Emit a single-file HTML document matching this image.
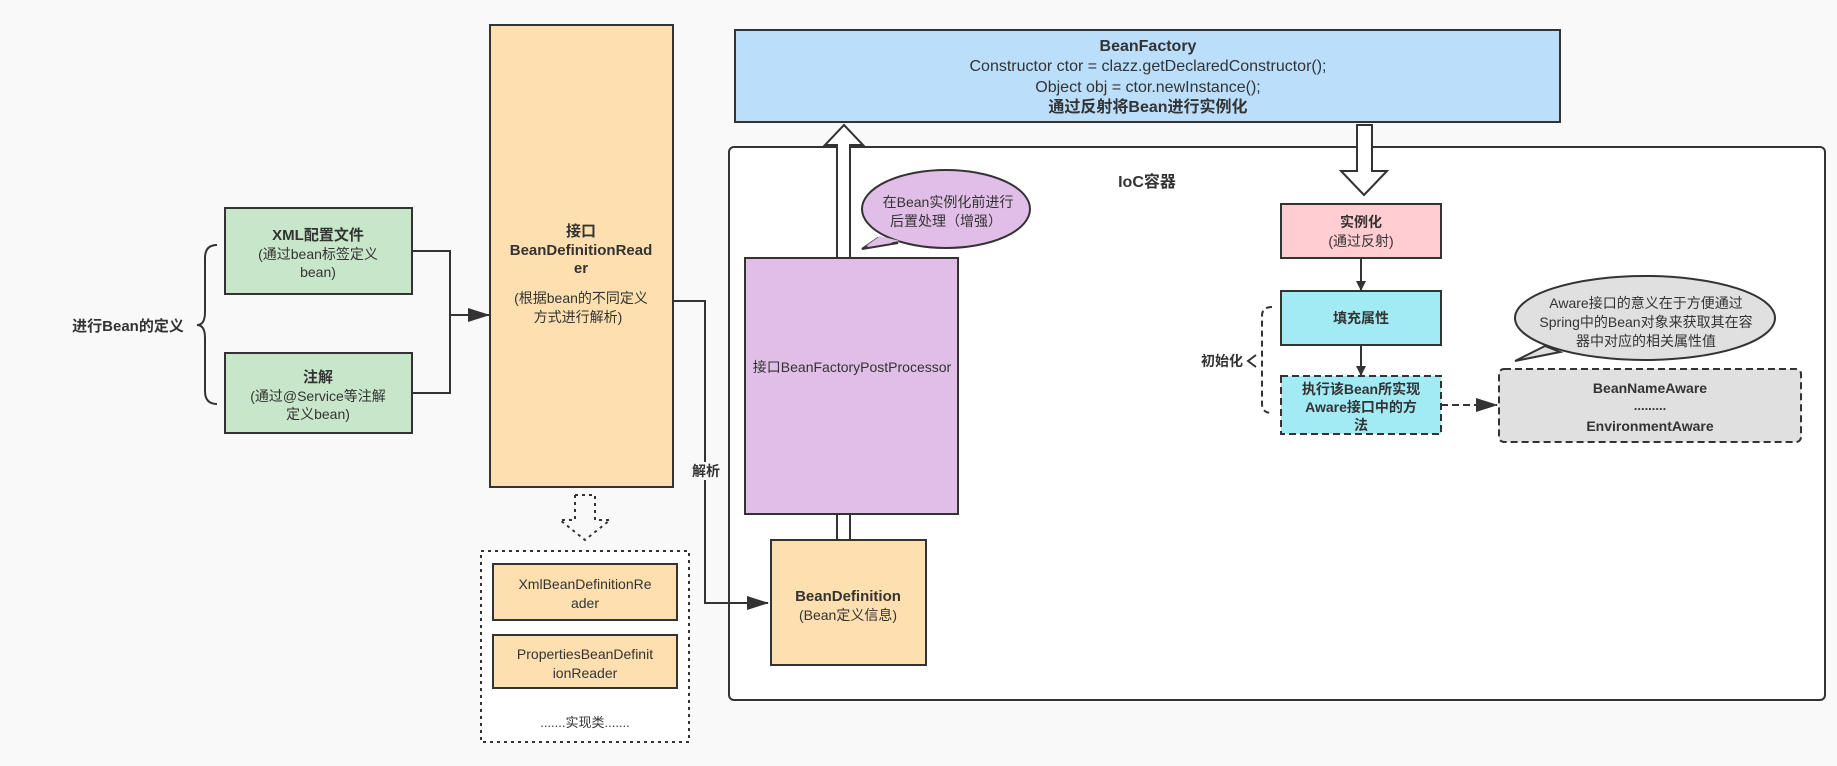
<!DOCTYPE html>
<html><head><meta charset="utf-8"><style>
html,body{margin:0;padding:0;background:#f9f9f9;}
svg{display:block;}
text{font-family:"Liberation Sans","Noto Sans CJK SC",sans-serif;fill:#333;}
.b{font-weight:bold;}
</style></head><body>
<svg width="1837" height="766" viewBox="0 0 1837 766" xmlns="http://www.w3.org/2000/svg">
<defs>
<marker id="ar" markerWidth="10" markerHeight="10" refX="9" refY="5" orient="auto" markerUnits="userSpaceOnUse"><path d="M0,0 L10,5 L0,10 z" fill="#333"/></marker>
<marker id="ar2" markerWidth="22" markerHeight="14" refX="21" refY="7" orient="auto" markerUnits="userSpaceOnUse"><path d="M0,0 L22,7 L0,14 z" fill="#333"/></marker>
</defs>
<rect width="1837" height="766" fill="#f9f9f9"/>

<!-- left brace -->
<path d="M217,245 Q205,245 205,258 L205,312 Q205,325 197,325 Q205,325 205,338 L205,391 Q205,404 217,404" fill="none" stroke="#333" stroke-width="2"/>
<text x="128" y="331" text-anchor="middle" font-size="15" class="b">进行Bean的定义</text>

<!-- green boxes -->
<rect x="225" y="208" width="187" height="86" fill="#c8e6c9" stroke="#333" stroke-width="2"/>
<text x="318" y="240" text-anchor="middle" font-size="15" class="b">XML配置文件</text>
<text x="318" y="259" text-anchor="middle" font-size="14">(通过bean标签定义</text>
<text x="318" y="277" text-anchor="middle" font-size="14">bean)</text>
<rect x="225" y="353" width="187" height="80" fill="#c8e6c9" stroke="#333" stroke-width="2"/>
<text x="318" y="382" text-anchor="middle" font-size="15" class="b">注解</text>
<text x="318" y="401" text-anchor="middle" font-size="14">(通过@Service等注解</text>
<text x="318" y="419" text-anchor="middle" font-size="14">定义bean)</text>

<path d="M412,251 L450,251 L450,393 L412,393" fill="none" stroke="#333" stroke-width="2"/>
<line x1="450" y1="315" x2="489" y2="315" stroke="#333" stroke-width="2" marker-end="url(#ar2)"/>

<!-- reader -->
<rect x="490" y="25" width="183" height="462" fill="#fee0b0" stroke="#333" stroke-width="2"/>
<text x="581" y="236" text-anchor="middle" font-size="15" class="b">接口</text>
<text x="581" y="255" text-anchor="middle" font-size="15" class="b">BeanDefinitionRead</text>
<text x="581" y="273" text-anchor="middle" font-size="15" class="b">er</text>
<text x="581" y="303" text-anchor="middle" font-size="14">(根据bean的不同定义</text>
<text x="578" y="322" text-anchor="middle" font-size="14">方式进行解析)</text>

<!-- dotted hollow arrow -->
<path d="M575,495 L595,495 L595,520 L610,520 L585,540 L560,520 L575,520 Z" fill="none" stroke="#333" stroke-width="2" stroke-dasharray="3,4"/>

<!-- dotted box -->
<rect x="481" y="551" width="208" height="191" fill="#fff" stroke="#333" stroke-width="2" stroke-dasharray="3,4"/>
<rect x="493" y="564" width="184" height="56" fill="#fee0b0" stroke="#333" stroke-width="2"/>
<text x="585" y="589" text-anchor="middle" font-size="14">XmlBeanDefinitionRe</text>
<text x="585" y="608" text-anchor="middle" font-size="14">ader</text>
<rect x="493" y="635" width="184" height="53" fill="#fee0b0" stroke="#333" stroke-width="2"/>
<text x="585" y="659" text-anchor="middle" font-size="14">PropertiesBeanDefinit</text>
<text x="585" y="678" text-anchor="middle" font-size="14">ionReader</text>
<text x="585" y="727" text-anchor="middle" font-size="13">.......实现类.......</text>

<!-- BeanFactory -->
<rect x="735" y="30" width="825" height="92" fill="#bbdefb" stroke="#333" stroke-width="2"/>
<text x="1148" y="51" text-anchor="middle" font-size="16" class="b">BeanFactory</text>
<text x="1148" y="71" text-anchor="middle" font-size="16">Constructor ctor = clazz.getDeclaredConstructor();</text>
<text x="1148" y="92" text-anchor="middle" font-size="16">Object obj = ctor.newInstance();</text>
<text x="1148" y="112" text-anchor="middle" font-size="16" class="b">通过反射将Bean进行实例化</text>

<!-- IoC container -->
<rect x="729" y="147" width="1096" height="553" rx="5" fill="#fff" stroke="#333" stroke-width="2"/>
<text x="1147" y="187" text-anchor="middle" font-size="16" class="b">IoC容器</text>

<!-- 解析 line -->
<path d="M673,301 L705,301 L705,603 L768,603" fill="none" stroke="#333" stroke-width="2" marker-end="url(#ar2)"/>
<rect x="690" y="462" width="34" height="18" fill="#f9f9f9"/>
<text x="706" y="476" text-anchor="middle" font-size="14" class="b">解析</text>

<!-- hollow up arrow -->
<path d="M837,258 L837,145 L825,145 L844,125 L863,145 L850,145 L850,258" fill="#fff" stroke="#333" stroke-width="2"/>
<!-- purple -->
<rect x="745" y="258" width="213" height="256" fill="#e1bee7" stroke="#333" stroke-width="2"/>
<text x="852" y="372" text-anchor="middle" font-size="14">接口BeanFactoryPostProcessor</text>
<!-- shaft between -->
<path d="M837,514 L837,540 M850,514 L850,540" stroke="#333" stroke-width="2"/>
<rect x="838" y="515" width="11" height="24" fill="#fff"/>
<!-- BeanDefinition -->
<rect x="771" y="540" width="155" height="125" fill="#fee0b0" stroke="#333" stroke-width="2"/>
<text x="848" y="601" text-anchor="middle" font-size="15" class="b">BeanDefinition</text>
<text x="848" y="620" text-anchor="middle" font-size="14">(Bean定义信息)</text>

<!-- bubble 1 -->
<path d="M878,238 L862,249 L898,243 Z" fill="#e1bee7" stroke="#333" stroke-width="2"/>
<ellipse cx="946" cy="209" rx="84" ry="39" fill="#e1bee7" stroke="#333" stroke-width="2"/>
<path d="M880,236 L866,246 L900,241" fill="#e1bee7" stroke="none"/>
<text x="948" y="207" text-anchor="middle" font-size="14">在Bean实例化前进行</text>
<text x="946" y="226" text-anchor="middle" font-size="14">后置处理（增强）</text>

<!-- down hollow arrow -->
<path d="M1357,125 L1357,171 L1341,171 L1364,195 L1387,171 L1372,171 L1372,125 Z" fill="#fff" stroke="#333" stroke-width="2"/>

<!-- 实例化 -->
<rect x="1281" y="204" width="160" height="54" fill="#ffcdd2" stroke="#333" stroke-width="2"/>
<text x="1361" y="227" text-anchor="middle" font-size="14" class="b">实例化</text>
<text x="1361" y="246" text-anchor="middle" font-size="14">(通过反射)</text>
<line x1="1361" y1="258" x2="1361" y2="290" stroke="#333" stroke-width="2" marker-end="url(#ar)"/>
<rect x="1281" y="291" width="160" height="54" fill="#a2ebf5" stroke="#333" stroke-width="2"/>
<text x="1361" y="323" text-anchor="middle" font-size="14" class="b">填充属性</text>
<line x1="1361" y1="345" x2="1361" y2="375" stroke="#333" stroke-width="2" marker-end="url(#ar)"/>
<rect x="1281" y="376" width="160" height="58" fill="#a2ebf5" stroke="#333" stroke-width="2" stroke-dasharray="7,4"/>
<text x="1361" y="394" text-anchor="middle" font-size="14" class="b">执行该Bean所实现</text>
<text x="1361" y="412" text-anchor="middle" font-size="14" class="b">Aware接口中的方</text>
<text x="1361" y="430" text-anchor="middle" font-size="14" class="b">法</text>

<!-- dashed brace -->
<path d="M1272,307 Q1262,307 1262,316 L1262,404 Q1262,413 1272,413" fill="none" stroke="#333" stroke-width="2" stroke-dasharray="6,4"/>
<path d="M1256,355 L1248,361 L1256,367" fill="none" stroke="#333" stroke-width="2"/>
<text x="1222" y="366" text-anchor="middle" font-size="14" class="b">初始化</text>

<!-- dashed arrow -->
<line x1="1441" y1="405" x2="1497" y2="405" stroke="#333" stroke-width="2" stroke-dasharray="7,4" marker-end="url(#ar2)"/>
<rect x="1499" y="369" width="302" height="73" rx="5" fill="#e0e0e0" stroke="#333" stroke-width="2" stroke-dasharray="7,4"/>
<text x="1650" y="393" text-anchor="middle" font-size="14" class="b">BeanNameAware</text>
<text x="1650" y="410" text-anchor="middle" font-size="13" class="b">.........</text>
<text x="1650" y="431" text-anchor="middle" font-size="14" class="b">EnvironmentAware</text>

<!-- bubble 2 -->
<path d="M1545,346 L1515,361 L1560,352 Z" fill="#e0e0e0" stroke="#333" stroke-width="2"/>
<ellipse cx="1645" cy="318" rx="130" ry="42" fill="#e0e0e0" stroke="#333" stroke-width="2"/>
<text x="1646" y="308" text-anchor="middle" font-size="14">Aware接口的意义在于方便通过</text>
<text x="1646" y="327" text-anchor="middle" font-size="14">Spring中的Bean对象来获取其在容</text>
<text x="1646" y="346" text-anchor="middle" font-size="14">器中对应的相关属性值</text>
</svg>
</body></html>
